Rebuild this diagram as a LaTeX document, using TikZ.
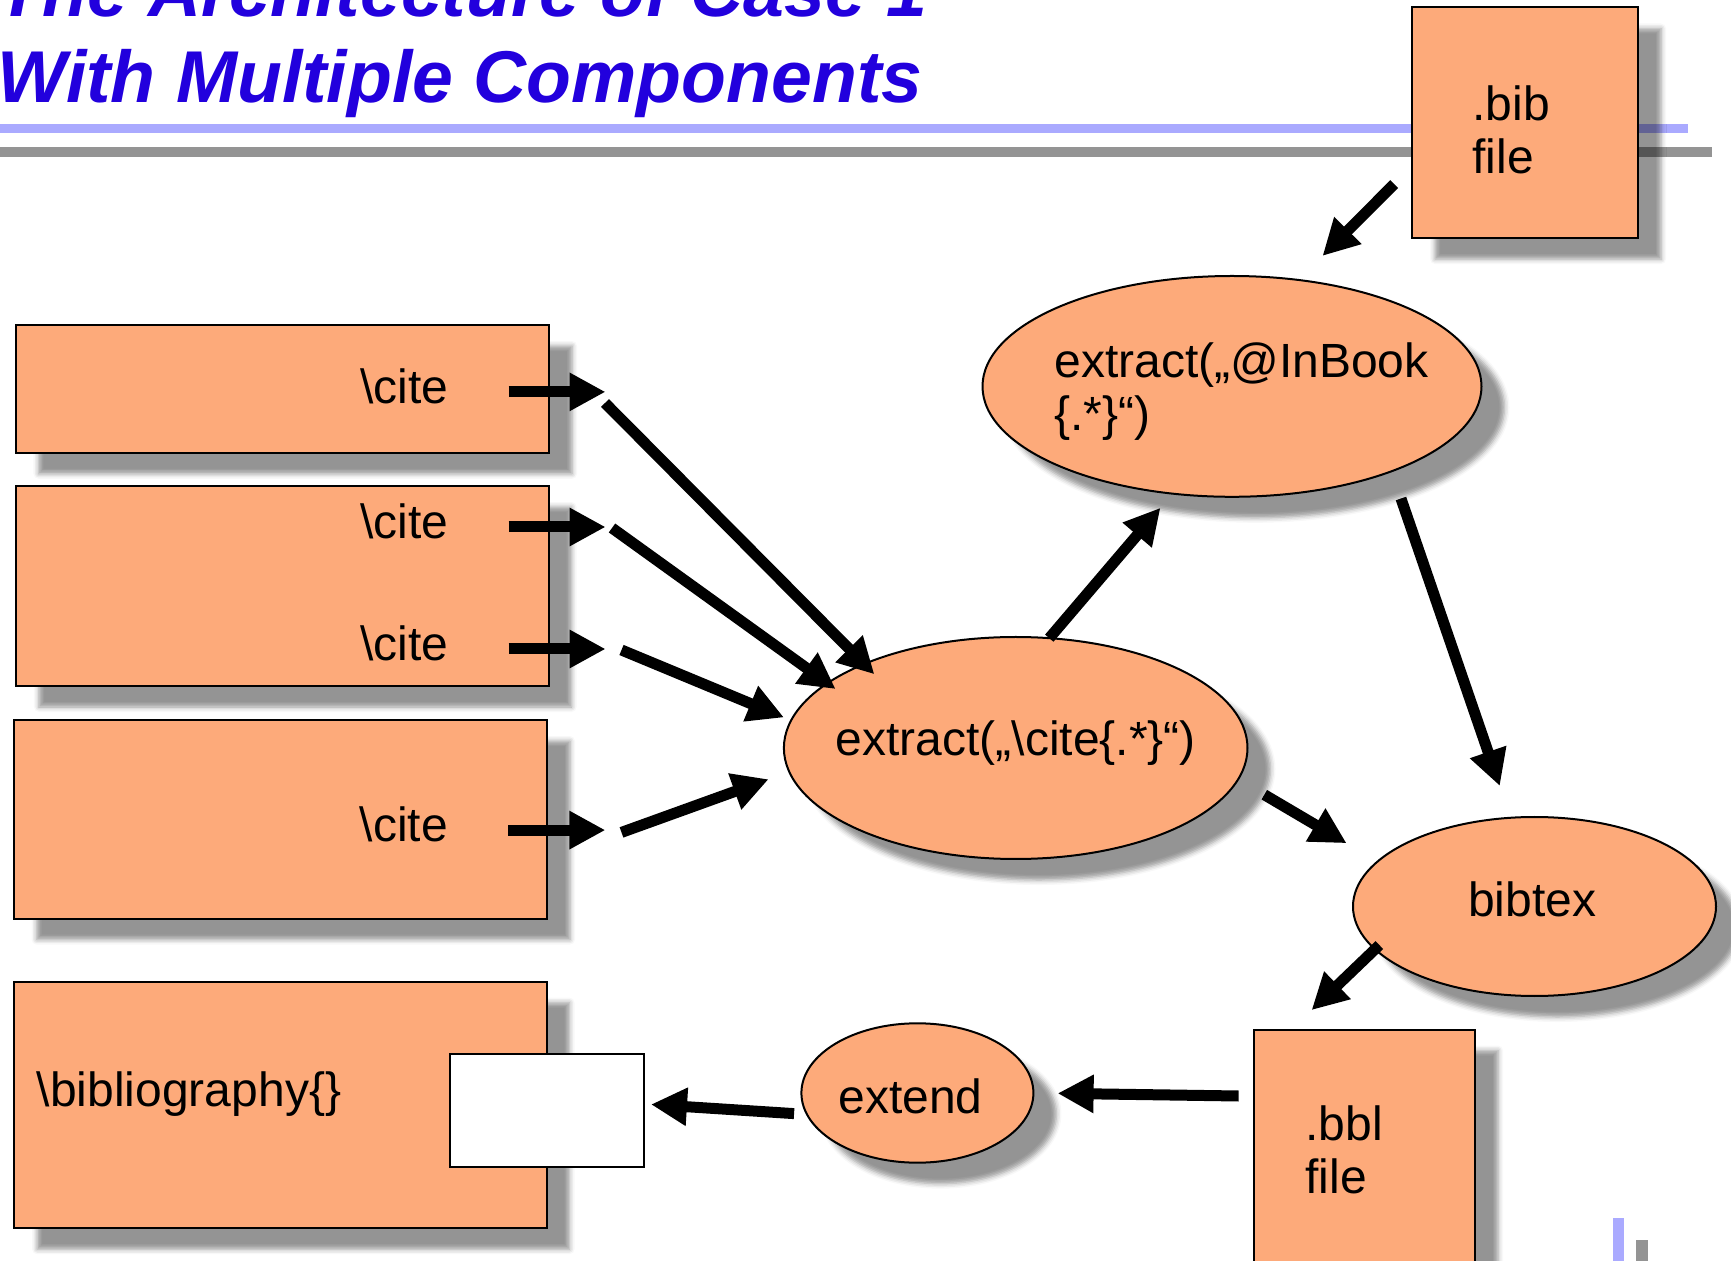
\documentclass[tikz,border=0pt]{standalone}
\usepackage{fontspec}
\setmainfont{Liberation Sans}
\usetikzlibrary{positioning,arrows.meta,shapes.geometric,calc,shadows.blur}
\definecolor{peach}{RGB}{253,170,122}
\definecolor{headblue}{RGB}{34,0,221}
\definecolor{ruleblue}{RGB}{170,170,255}
\definecolor{rulegray}{RGB}{148,148,148}
\tikzset{
  softshadow/.style={blur shadow={shadow xshift=11.5pt,shadow yshift=-10.5pt,
            shadow opacity=42,shadow blur radius=2.5pt}},
  srcbox/.style={draw,line width=1pt,fill=peach,softshadow,inner sep=0pt,outer sep=0pt},
  procell/.style={ellipse,draw,line width=1pt,fill=peach,softshadow,inner sep=0pt,outer sep=0pt},
  slotbox/.style={draw,line width=1pt,fill=white,inner sep=0pt,outer sep=0pt},
  lbl/.style={inner sep=0pt,align=left},
  headline/.style={inner sep=0pt,text=headblue,
            font=\fontsize{36.7}{42}\selectfont\bfseries\itshape},
  flowarrow/.style={-{Triangle[length=18pt,width=18pt]},line width=5.5pt},
}

\begin{document}
\begin{tikzpicture}[x=0.5pt,y=-0.5pt,every node/.style={font=\fontsize{24}{26.5}\selectfont}]
  \useasboundingbox (0,0) rectangle (1731,1261);
  \clip (0,0) rectangle (1731,1261);
  % slide rules
  \fill[ruleblue] (0,124.5) rectangle (1688,133.5);
  \fill[rulegray] (0,147) rectangle (1712,157.5);
  \fill[ruleblue] (1613,1218) rectangle (1624,1261);
  \fill[rulegray] (1636,1240) rectangle (1648,1261);
  \node[headline,anchor=base west] (head1) at (-3,17) {The Architecture of Case 1};
  \node[headline,anchor=base west] (head2) at (-3,102.3) {With Multiple Components};
  % source documents
  \node[srcbox,minimum width=266.8pt,minimum height=63.9pt] (box1) at (282.3,388.9) {};
  \node[srcbox,minimum width=266.3pt,minimum height=100pt,below=16.6pt of box1] (box2) {};
  \node[srcbox,minimum width=266.7pt,minimum height=99.3pt,below=17pt of box2,xshift=-1pt] (box3) {};
  \node[srcbox,minimum width=266.2pt,minimum height=123.3pt,below=31.5pt of box3] (box4) {};
  \node[slotbox,minimum width=96.6pt,minimum height=56.4pt] (slot) at (547,1110.7) {};
  \node[lbl,anchor=east] (cite1) at ([xshift=-50.3pt,yshift=1.5pt]box1.east) {\textbackslash cite};
  \node[lbl,anchor=east] (cite2) at ([xshift=-50pt,yshift=32.5pt]box2.east) {\textbackslash cite};
  \node[lbl,anchor=east] (cite3) at ([xshift=-50pt,yshift=-28.5pt]box2.east) {\textbackslash cite};
  \node[lbl,anchor=east] (cite4) at ([xshift=-49.3pt,yshift=-2.4pt]box3.east) {\textbackslash cite};
  \node[lbl,anchor=base west] (biblio) at ([xshift=11.2pt,yshift=-1pt]box4.west) {\textbackslash bibliography\{\}};
  % files
  \node[srcbox,minimum width=113pt,minimum height=115.3pt] (bib) at (1525,122.8) {};
  \node[lbl,anchor=base west] (bibtxt) at ([xshift=30pt,yshift=-83pt]bib.north west) {.bib\\file};
  \node[srcbox,minimum width=110.5pt,minimum height=150pt] (bbl) at (1364.5,1179.5) {};
  \node[lbl,anchor=base west] (bbltxt) at ([xshift=25.5pt,yshift=-81.75pt]bbl.north west) {.bbl\\file};
  % processing steps
  \node[procell,minimum width=249.5pt,minimum height=110.4pt] (inbook) at (1232,386.4) {};
  \node[lbl,anchor=base west] (inbooktxt) at ([xshift=-89pt,yshift=-22.1pt]inbook.center) {extract(„@InBook\\\{.*\}“)};
  \node[procell,minimum width=231.8pt,minimum height=111pt] (citeex) at (1015.7,748) {};
  \node[lbl,anchor=base] (citeextxt) at ([yshift=-4pt]citeex.center) {extract(„\textbackslash cite\{.*\}“)};
  \node[procell,minimum width=181.5pt,minimum height=89.5pt] (bibtex) at (1534.5,906.5) {};
  \node[lbl,anchor=base] (bibtextxt) at ([xshift=-1.2pt,yshift=-4.75pt]bibtex.center) {bibtex};
  \node[procell,minimum width=116pt,minimum height=69.7pt] (extend) at (917.4,1093) {};
  \node[lbl,anchor=base] (extendtxt) at ([xshift=-3.5pt,yshift=-10pt]extend.center) {extend};
  % short arrows out of the citations
  \coordinate (p1) at ($(cite1.east)+(157,6)$);
  \coordinate (p2) at ($(cite2.east)+(157,6)$);
  \coordinate (p3) at ($(cite3.east)+(157,6)$);
  \coordinate (p4) at ($(cite4.east)+(157,6)$);
  \draw[flowarrow,shorten <=30pt] ([yshift=-3pt]cite1.east) -- (p1);
  \draw[flowarrow,shorten <=30pt] ([yshift=-3pt]cite2.east) -- (p2);
  \draw[flowarrow,shorten <=30pt] ([yshift=-3pt]cite3.east) -- (p3);
  \draw[flowarrow,shorten <=30pt] ([yshift=-3pt]cite4.east) -- (p4);
  % into the cite extractor
  \coordinate (q1) at (605,403);
  \coordinate (q2) at (612,528);
  \coordinate (q3) at (621.5,650);
  \coordinate (q4) at (621.5,832.4);
  \draw[flowarrow,shorten >=-7.25pt] (q1) -- (citeex.151.1);
  \draw[flowarrow,shorten >=-5pt] (q2) -- (citeex.161);
  \draw[flowarrow,shorten >=3.9pt] (q3) -- (citeex.173.7);
  \draw[flowarrow,shorten >=11pt] (q4) -- (citeex.186);
  % the rest of the flow
  \draw[flowarrow,shorten >=9.3pt] (citeex.73.4) -- (inbook.241.5);
  \draw[flowarrow,shorten <=12.6pt,shorten >=17pt] (bib.201.2) -- (inbook.58.5);
  \draw[flowarrow,shorten <=14.4pt,shorten >=16.8pt] (inbook.332.3) -- (bibtex.105.6);
  \draw[flowarrow,shorten <=15.2pt,shorten >=18pt] (citeex.352) -- (bibtex.164.8);
  \draw[flowarrow,shorten <=-3pt,shorten >=14pt] (bibtex.195.3) -- (bbl.116.9);
  \draw[flowarrow,shorten <=7.7pt,shorten >=12.1pt] (bbl.143) -- (extend.0.7);
  \draw[flowarrow,shorten <=6.5pt,shorten >=3.7pt] (extend.191.9) -- (slot.4.3);
\end{tikzpicture}
\end{document}
